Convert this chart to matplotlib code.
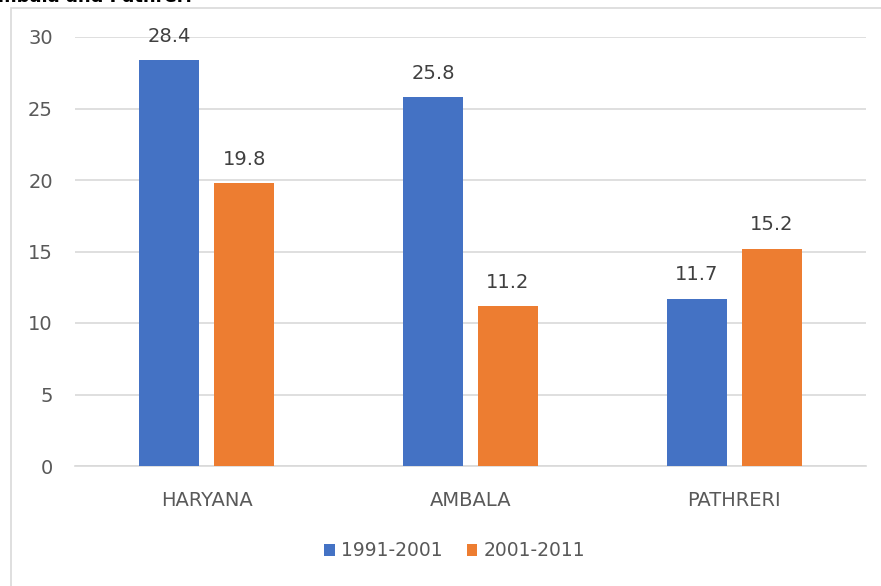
import matplotlib.pyplot as plt
import numpy as np
from matplotlib.patches import Rectangle

places = ['HARYANA', 'AMBALA', 'PATHRERI']
growth_1991_2001 = [28.4, 25.8, 11.7]
growth_2001_2011 = [19.8, 11.2, 15.2]
periods = ['1991-2001', '2001-2011']
colors = ['#4472c4', '#ed7d31']

plt.rcParams['font.family'] = ['DejaVu Sans']

W, H = 881, 586
fig = plt.figure(figsize=(W / 100, H / 100), dpi=100)

# chart frame (only top and left edges visible)
fig.patches.append(Rectangle((11 / W, -0.1), 1.2, 1 - 8 / H + 0.1,
                             transform=fig.transFigure, fill=False,
                             edgecolor='#d9d9d9', linewidth=1.2))
fig.text(-16 / W, 1 - 2 / H, 'Ambala and Pathreri', fontsize=13,
         fontweight='bold', color='black', va='baseline')

ax = fig.add_axes([75 / W, 1 - 466 / H, (866 - 75) / W, (466 - 37) / H])

x = np.arange(len(places))
bw = 0.2275
off = 0.142
b1 = ax.bar(x - off, growth_1991_2001, bw, color=colors[0], label=periods[0], zorder=3)
b2 = ax.bar(x + off, growth_2001_2011, bw, color=colors[1], label=periods[1], zorder=3)

for bars in (b1, b2):
    for b in bars:
        ax.text(b.get_x() + b.get_width() / 2, b.get_height() + 1.0,
                f'{b.get_height():.1f}', ha='center', va='bottom',
                fontsize=14, color='#404040', zorder=4)

ax.set_xlim(-0.5, 2.5)
ax.set_ylim(0, 30)
ax.set_yticks(range(0, 31, 5))
ax.yaxis.grid(True, color='#d9d9d9', linewidth=1.2, zorder=0)
ax.set_axisbelow(True)
for s in ['top', 'right', 'left']:
    ax.spines[s].set_visible(False)
ax.spines['bottom'].set_color('#d9d9d9')
ax.spines['bottom'].set_linewidth(1.2)
ax.set_xticks(x)
ax.set_xticklabels(places)
ax.tick_params(axis='both', length=0, labelsize=14, labelcolor='#595959')
ax.tick_params(axis='y', pad=16)
ax.tick_params(axis='x', pad=18)

ax.legend(loc='center', bbox_to_anchor=(455 / W, 1 - 551 / H),
          bbox_transform=fig.transFigure, ncol=2, frameon=False,
          fontsize=13.5, handlelength=0.55, handleheight=0.55,
          handletextpad=0.35, columnspacing=1.3, labelcolor='#595959')

fig.savefig('out.png', dpi=100)
